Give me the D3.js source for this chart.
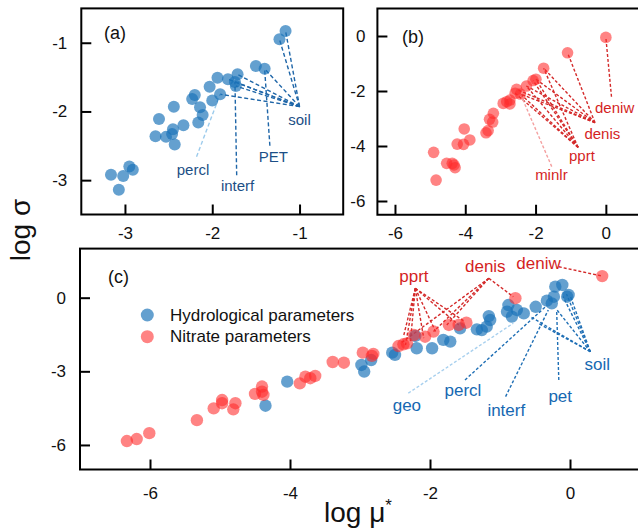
<!DOCTYPE html>
<html><head><meta charset="utf-8">
<script src="https://cdn.jsdelivr.net/npm/d3@7"></script>
<style>body{margin:0;background:#fff}svg{display:block;font-family:"Liberation Sans",Arial,sans-serif}</style>
</head><body><svg id="c" width="638" height="532"></svg>
<script>
// ---------- DATA ----------
// Panel (a): hydrological parameters [log mu*, log sigma]
const aPoints = [[-1.16,-0.83],[-1.23,-0.95],[-1.50,-1.34],[-1.40,-1.38],[-1.71,-1.46],[-1.82,-1.53],[-1.94,-1.51],[-1.74,-1.57],[-1.73,-1.63],[-2.03,-1.64],[-1.91,-1.75],[-2.00,-1.84],[-2.20,-1.76],[-2.23,-1.82],[-2.44,-1.93],[-2.14,-1.94],[-2.11,-2.05],[-2.16,-2.16],[-2.61,-2.11],[-2.33,-2.20],[-2.45,-2.26],[-2.46,-2.33],[-2.65,-2.36],[-2.53,-2.37],[-2.43,-2.48],[-2.95,-2.80],[-2.91,-2.85],[-3.16,-2.92],[-3.02,-2.94],[-3.07,-3.14]];
// Panel (b): nitrate parameters
const bPoints = [[0.00,-0.05],[-1.09,-0.61],[-1.77,-1.17],[-1.99,-1.57],[-2.07,-1.62],[-2.26,-1.82],[-2.54,-1.94],[-2.58,-2.08],[-2.43,-2.11],[-2.73,-2.33],[-2.82,-2.39],[-2.92,-2.45],[-2.73,-2.47],[-3.20,-2.81],[-3.31,-3.03],[-3.22,-3.13],[-3.41,-3.52],[-3.35,-3.44],[-4.03,-3.38],[-3.87,-3.78],[-4.05,-3.94],[-4.23,-3.93],[-4.53,-4.63],[-4.37,-4.63],[-4.32,-4.69],[-4.29,-4.79],[-4.90,-4.23],[-4.83,-5.24]];
// Panel (c): both groups
const cHydro = [[-4.35,-4.40],[-4.04,-3.42],[-2.98,-2.74],[-2.94,-3.01],[-2.84,-2.54],[-2.54,-2.24],[-2.50,-2.33],[-2.21,-1.56],[-2.19,-2.06],[-1.97,-2.06],[-1.81,-1.72],[-1.71,-1.79],[-1.57,-1.25],[-1.33,-1.29],[-1.26,-1.32],[-1.19,-1.18],[-1.14,-0.91],[-1.16,-0.75],[-0.88,-0.30],[-0.90,-0.57],[-0.83,-0.77],[-0.76,-0.50],[-0.66,-0.64],[-0.49,-0.37],[-0.33,-0.12],[-0.26,-0.23],[-0.23,0.04],[-0.21,0.45],[-0.11,0.52],[-0.04,0.04],[-0.02,0.11]];
const cNitrate = [[-6.33,-5.84],[-6.19,-5.76],[-6.01,-5.52],[-5.33,-4.99],[-5.09,-4.51],[-4.97,-4.17],[-4.97,-4.30],[-4.81,-4.55],[-4.78,-4.30],[-4.50,-3.92],[-4.40,-3.62],[-4.40,-3.83],[-4.38,-3.96],[-3.86,-3.49],[-3.78,-3.22],[-3.71,-3.28],[-3.64,-3.19],[-3.39,-2.62],[-3.23,-2.65],[-2.96,-2.24],[-2.83,-2.37],[-2.81,-2.29],[-2.45,-1.97],[-2.38,-1.90],[-2.33,-1.86],[-2.23,-1.52],[-2.07,-1.59],[-1.95,-1.38],[-1.73,-1.11],[-1.59,-1.11],[-1.48,-1.02],[-0.78,-0.02],[0.46,0.88]];

// Annotations: label text, label centre [x,y], line anchor [x,y], target points
const aNotes = [
  {name:"soil",  text:[-1.00,-2.11], anchor:[-1.00,-1.93], targets:[0,1,3,4,5,7,8,10], light:false},
  {name:"PET",   text:[-1.30,-2.66], anchor:[-1.34,-2.50], targets:[3], light:false},
  {name:"interf",text:[-1.71,-3.08], anchor:[-1.72,-2.93], targets:[7], light:false},
  {name:"percl", text:[-2.22,-2.85], anchor:[-2.18,-2.66], targets:[10], light:true}
];
const bNotes = [
  {name:"deniw", text:[0.25,-2.61], anchor:[0.16,-2.21], targets:[0], light:false},
  {name:"denis", text:[-0.10,-3.56], anchor:[-0.31,-3.15], targets:[1,2,3,5,6,8], light:false},
  {name:"pprt",  text:[-0.68,-4.36], anchor:[-0.79,-4.05], targets:[2,3,4,5,7,8], light:false},
  {name:"minlr", text:[-1.55,-5.05], anchor:[-1.54,-4.75], targets:[8], light:true}
];
const cNotesN = [
  {name:"pprt",  text:[-2.23,0.86], anchor:[-2.21,0.38], targets:[[-2.38,-1.59],[-2.35,-1.93],[-2.28,-1.79],[-2.09,-1.65],[-1.92,-1.38],[-1.59,-1.11],[-1.50,-0.98]], light:false},
  {name:"denis", text:[-1.21,1.26], anchor:[-1.16,0.79], targets:[[-0.81,0.04],[-2.42,-1.86],[-1.95,-1.38],[-1.76,-1.11]], light:false},
  {name:"deniw", text:[-0.45,1.40], anchor:[-0.16,1.26], targets:[[0.46,0.88]], light:false}
];
const cNotesH = [
  {name:"soil",  text:[0.39,-2.74], anchor:[0.29,-2.20], targets:[[0.0,0.1],[-0.05,0.15],[-0.1,0.05],[-0.2,-0.45],[-0.57,-0.77],[-0.45,-1.05]], light:false},
  {name:"pet",   text:[-0.14,-4.03], anchor:[-0.16,-3.35], targets:[[-0.19,-0.57]], light:false},
  {name:"interf",text:[-0.91,-4.60], anchor:[-0.92,-4.03], targets:[[-0.31,-0.50]], light:false},
  {name:"percl", text:[-1.53,-3.79], anchor:[-1.50,-3.35], targets:[[-0.35,-0.37]], light:false},
  {name:"geo",   text:[-2.33,-4.41], anchor:[-2.31,-3.89], targets:[[-0.81,-1.04]], light:true}
];
const legendItems = ["Hydrological parameters","Nitrate parameters"];
const aTicksX = [-3,-2,-1], aTicksY = [-1,-2,-3];
const bTicksX = [-6,-4,-2,0], bTicksY = [0,-2,-4,-6];
const cTicksX = [-6,-4,-2,0], cTicksY = [0,-3,-6];

// ---------- DRAW ----------
const svg = d3.select("#c");
const BLUE = "#1a73b8", RED = "#ff2a2a";

function makePanel(o){
  const x = d3.scaleLinear().domain(o.xd).range([o.x0,o.x1]);
  const y = d3.scaleLinear().domain(o.yd).range([o.y1,o.y0]);
  const g = svg.append("g");
  const ax = g.append("g").attr("transform",`translate(0,${o.y1})`)
    .call(d3.axisBottom(x).tickValues(o.tx).tickSize(-10).tickPadding(o.padX).tickFormat(d3.format("d")));
  const ay = g.append("g").attr("transform",`translate(${o.x0},0)`)
    .call(d3.axisLeft(y).tickValues(o.ty).tickSize(-10).tickPadding(o.padY).tickFormat(d3.format("d")));
  [ax,ay].forEach(a=>{
    a.select(".domain").remove();
    a.selectAll(".tick line").attr("stroke","#000").attr("stroke-width",2);
    a.selectAll(".tick text").attr("font-size",17).attr("fill","#111")
      .attr("font-family","'Liberation Sans',Arial,sans-serif")
      .text(d=>d<0?"-"+Math.abs(d):d);
  });
  g.append("rect").attr("x",o.x0).attr("y",o.y0).attr("width",o.x1-o.x0).attr("height",o.y1-o.y0)
    .attr("fill","none").attr("stroke","#000").attr("stroke-width",2);
  g.append("text").attr("x",o.lx).attr("y",o.ly).attr("font-size",18).attr("fill","#111").text(o.label);
  return {x,y,g};
}

function notes(p, list, pts, col, light, dash){
  const lg = p.g.append("g");
  list.forEach(n=>{
    n.targets.forEach(t=>{
      const tp = Array.isArray(t) ? t : pts[t];
      lg.append("line")
        .attr("x1",p.x(n.anchor[0])).attr("y1",p.y(n.anchor[1]))
        .attr("x2",p.x(tp[0])).attr("y2",p.y(tp[1]))
        .attr("stroke", n.light ? light : col).attr("stroke-width",1.4)
        .attr("stroke-dasharray",dash);
    });
  });
  return lg;
}
function labels(p, list, txtCol, fs){
  list.forEach(n=>{
    p.g.append("text").attr("x",p.x(n.text[0])).attr("y",p.y(n.text[1]))
      .attr("text-anchor","middle").attr("dominant-baseline","central")
      .attr("font-size",fs).attr("fill",txtCol).text(n.name);
  });
}
function dots(p, pts, col, op, r){
  p.g.append("g").selectAll("circle").data(pts).join("circle")
    .attr("cx",d=>p.x(d[0])).attr("cy",d=>p.y(d[1])).attr("r",r)
    .attr("fill",col).attr("fill-opacity",op);
}

// Panel (a)
const pa = makePanel({xd:[-3.5,-0.5], yd:[-3.5,-0.5], x0:81.3, x1:343.2, y0:8.4, y1:214.5,
  tx:aTicksX, ty:aTicksY, padX:12, padY:14, label:"(a)", lx:104, ly:39});
notes(pa, aNotes, aPoints, "#1f66a8", "#9ccbec", "4,2.5");
dots(pa, aPoints, BLUE, 0.68, 6);
labels(pa, aNotes, "#1c4f86", 15);

// Panel (b)
const pb = makePanel({xd:[-6.5,1], yd:[-6.5,1], x0:377.4, x1:641, y0:8.5, y1:214.75,
  tx:bTicksX, ty:bTicksY, padX:12.5, padY:12, label:"(b)", lx:402, ly:43});
notes(pb, bNotes, bPoints, "#d42a2a", "#f4a0a0", "3,2");
dots(pb, bPoints, RED, 0.58, 5.8);
labels(pb, bNotes, "#d41f1f", 15);

// Panel (c)
const pc = makePanel({xd:[-7,1], yd:[-7,2], x0:80, x1:640, y0:248.6, y1:469.5,
  tx:cTicksX, ty:cTicksY, padX:17.5, padY:14, label:"(c)", lx:108, ly:283});
notes(pc, cNotesH, cHydro, "#1f6fb5", "#a8d0ee", "3,2");
notes(pc, cNotesN, cNitrate, "#d42a2a", "#f4a0a0", "3,2");
dots(pc, cHydro, BLUE, 0.68, 6.2);
dots(pc, cNitrate, RED, 0.58, 6.2);
labels(pc, cNotesH, "#1668b2", 17);
labels(pc, cNotesN, "#d41f1f", 17);

// legend
const leg = pc.g.append("g");
legendItems.forEach((t,i)=>{
  leg.append("circle").attr("cx",147.3).attr("cy",315+i*21.7).attr("r",6.5)
    .attr("fill",i===0?BLUE:RED).attr("fill-opacity",i===0?0.68:0.58);
  leg.append("text").attr("x",170).attr("y",315+i*21.7).attr("dominant-baseline","central")
    .attr("font-size",17).attr("fill","#111").text(t);
});

// axis titles
svg.append("text").attr("transform","translate(30,230) rotate(-90)").attr("text-anchor","middle")
  .attr("font-size",28).attr("fill","#111").text("log σ");
const xt = svg.append("text").attr("x",358).attr("y",522).attr("text-anchor","middle")
  .attr("font-size",28).attr("fill","#111");
xt.append("tspan").text("log μ");
xt.append("tspan").attr("font-size",17).attr("dy",-11).text("*");
</script></body></html>
